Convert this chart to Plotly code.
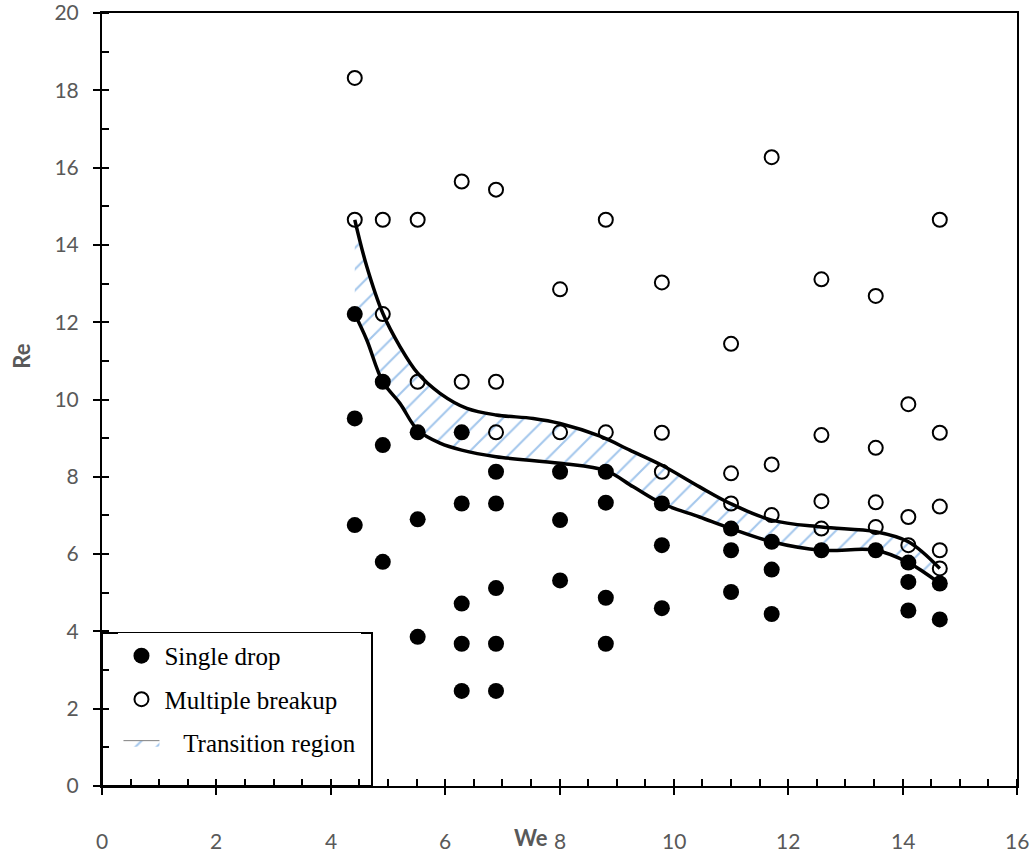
import plotly.graph_objects as go

# Single drop observations (filled markers)
single_we = [4.42, 4.42, 4.42,
             4.91, 4.91, 4.91,
             5.52, 5.52, 5.52,
             6.29, 6.29, 6.29, 6.29, 6.29,
             6.89, 6.89, 6.89, 6.89, 6.89,
             8.01, 8.01, 8.01,
             8.81, 8.81, 8.81, 8.81,
             9.79, 9.79, 9.79,
             11.0, 11.0, 11.0,
             11.71, 11.71, 11.71,
             12.58,
             13.53,
             14.10, 14.10, 14.10,
             14.65, 14.65]
single_re = [12.21, 9.51, 6.75,
             10.46, 8.82, 5.80,
             9.15, 6.90, 3.86,
             9.15, 7.31, 4.72, 3.68, 2.46,
             8.13, 7.31, 5.12, 3.68, 2.46,
             8.13, 6.88, 5.32,
             8.13, 7.33, 4.87, 3.68,
             7.31, 6.23, 4.60,
             6.66, 6.10, 5.02,
             6.32, 5.60, 4.45,
             6.10,
             6.10,
             5.78, 5.28, 4.54,
             5.24, 4.31]

# Multiple breakup observations (open markers)
multi_we = [4.42, 4.42,
            4.91, 4.91,
            5.52, 5.52,
            6.29, 6.29,
            6.89, 6.89, 6.89,
            8.01, 8.01,
            8.81, 8.81,
            9.79, 9.79, 9.79,
            11.0, 11.0, 11.0,
            11.71, 11.71, 11.71,
            12.58, 12.58, 12.58, 12.58,
            13.53, 13.53, 13.53, 13.53,
            14.10, 14.10, 14.10,
            14.65, 14.65, 14.65, 14.65, 14.65]
multi_re = [18.32, 14.65,
            14.65, 12.21,
            14.65, 10.46,
            15.64, 10.46,
            15.43, 10.46, 9.15,
            12.85, 9.15,
            14.65, 9.15,
            13.03, 9.14, 8.13,
            11.44, 8.09, 7.31,
            16.27, 8.32, 7.01,
            13.11, 9.08, 7.37, 6.66,
            12.68, 8.75, 7.34, 6.70,
            9.88, 6.96, 6.23,
            14.65, 9.14, 7.23, 6.10, 5.63]

# Upper and lower boundaries of the transition region
upper_we = [4.42, 4.63, 4.91, 5.21, 5.52, 5.91, 6.38, 6.89, 7.54, 8.01,
            8.71, 9.23, 9.79, 10.45, 11.0, 11.71, 12.58, 13.53, 14.10, 14.65]
upper_re = [14.65, 13.44, 12.23, 11.37, 10.68, 10.16, 9.77, 9.60, 9.51, 9.38,
            9.05, 8.69, 8.30, 7.74, 7.30, 6.88, 6.70, 6.58, 6.32, 5.63]
lower_we = [4.42, 4.63, 4.91, 5.21, 5.52, 5.91, 6.29, 6.89, 8.01, 8.81,
            9.29, 9.79, 10.45, 11.0, 11.71, 12.58, 13.53, 14.10, 14.65]
lower_re = [12.21, 11.54, 10.46, 9.90, 9.21, 8.87, 8.69, 8.52, 8.35, 8.16,
            7.74, 7.31, 6.96, 6.66, 6.32, 6.10, 6.10, 5.78, 5.24]

x_ticks = [0, 2, 4, 6, 8, 10, 12, 14, 16]
y_ticks = [0, 2, 4, 6, 8, 10, 12, 14, 16, 18, 20]

HATCH = "#4A90D9"
GREY = "#595959"
TICK_FONT = dict(family="Lato", size=21, color=GREY)
TITLE_FONT = dict(family="Lato", size=22, color=GREY)
NBSP = "\u00a0"

fig = go.Figure()

# hatched band between the two boundaries
fig.add_trace(go.Scatter(
    x=lower_we, y=lower_re, mode="lines",
    line=dict(width=0, shape="spline", smoothing=1),
    showlegend=False, hoverinfo="skip"))
fig.add_trace(go.Scatter(
    x=upper_we, y=upper_re, mode="lines",
    name=NBSP * 3 + "Transition region",
    line=dict(width=1, color="#7F7F7F", shape="spline", smoothing=1),
    fill="tonexty", fillcolor="white",
    fillpattern=dict(shape="/", fgcolor=HATCH, bgcolor="white",
                     size=15, solidity=0.14),
    legendgroup="c", legendrank=3, hoverinfo="skip"))

# boundary curves
for xs, ys in ((upper_we, upper_re), (lower_we, lower_re)):
    fig.add_trace(go.Scatter(
        x=xs, y=ys, mode="lines",
        line=dict(width=3.5, color="black", shape="spline", smoothing=1),
        showlegend=False, hoverinfo="skip"))

fig.add_trace(go.Scatter(
    x=single_we, y=single_re, mode="markers", name="Single drop",
    marker=dict(symbol="circle", size=16, color="black"),
    legendgroup="a", legendrank=1))
fig.add_trace(go.Scatter(
    x=multi_we, y=multi_re, mode="markers", name="Multiple breakup",
    marker=dict(symbol="circle-open", size=14, color="black",
                line=dict(width=2, color="black")),
    legendgroup="b", legendrank=2))

axis_common = dict(
    showgrid=False, zeroline=False,
    showline=True, linecolor="black", linewidth=2, mirror=True,
    ticks="outside", ticklen=7, tickwidth=2, tickcolor="black",
    tickfont=TICK_FONT, ticklabeloverflow="allow",
)
inner_common = dict(
    ticks="inside", ticklen=7, tickwidth=2, tickcolor="black",
    showticklabels=False, showgrid=False, zeroline=False, showline=False,
)

fig.update_layout(
    width=1036, height=851,
    margin=dict(l=102, r=19, t=13, b=65),
    paper_bgcolor="white", plot_bgcolor="white",
    xaxis=dict(range=[0, 16], tickvals=x_ticks, showticklabels=False,
               minor=dict(dtick=0.5, ticks="inside", ticklen=7,
                          tickwidth=2, tickcolor="black"),
               **axis_common),
    yaxis=dict(range=[0, 20], tickvals=y_ticks, automargin="left",
               minor=dict(dtick=1, ticks="inside", ticklen=7,
                          tickwidth=2, tickcolor="black"),
               ticklabelstandoff=10, **axis_common),
    # inner halves of the major ticks
    xaxis2=dict(overlaying="x", side="bottom", range=[0, 16],
                tickvals=x_ticks, **inner_common),
    yaxis2=dict(overlaying="y", side="left", range=[0, 20],
                tickvals=y_ticks, automargin=False, **inner_common),
    legend=dict(x=0.018, y=0.026, xanchor="left", yanchor="bottom",
                bgcolor="white", borderwidth=0, tracegroupgap=8,
                itemwidth=36,
                font=dict(family="Liberation Serif", size=25, color="black"),
                traceorder="grouped"),
    showlegend=True,
)

# x tick labels, set below the axis line
for v in x_ticks:
    fig.add_annotation(text=str(v), x=v, xref="x", yref="paper",
                       y=-(840 - 786) / 772.5, xanchor="center",
                       yanchor="middle", showarrow=False, font=TICK_FONT)

# legend frame
fig.add_shape(type="rect", xref="paper", yref="paper",
              x0=0, x1=(372 - 102) / 915, y0=0, y1=(786 - 633) / 772.5,
              line=dict(color="black", width=2), fillcolor="rgba(0,0,0,0)",
              layer="above")

# axis titles
fig.add_annotation(text="<b>We</b>", xref="paper", yref="paper",
                   x=(531 - 102) / 915, y=-(837 - 786) / 772.5,
                   xanchor="center", yanchor="middle",
                   showarrow=False, font=TITLE_FONT)
fig.add_annotation(text="<b>Re</b>", xref="paper", yref="paper",
                   x=-(102 - 22) / 915, y=(786 - 357) / 772.5, textangle=-90,
                   xanchor="center", yanchor="middle",
                   showarrow=False, font=TITLE_FONT)

# empty trace that keeps the overlay axes drawn
fig.add_trace(go.Scatter(x=[None], y=[None], xaxis="x2", yaxis="y2",
                         showlegend=False, hoverinfo="skip"))

fig.write_html("out.html")
